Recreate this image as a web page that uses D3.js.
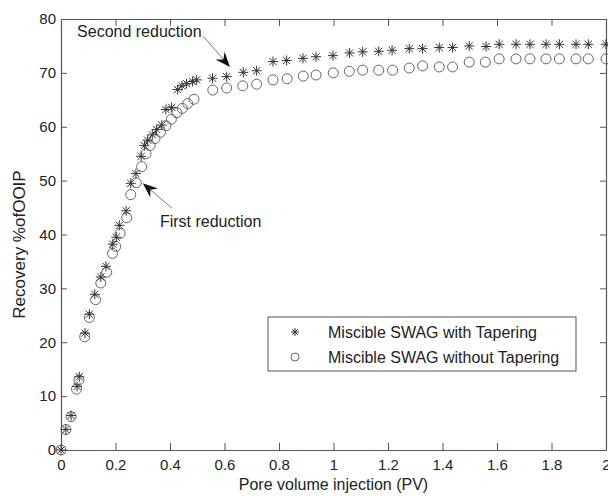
<!DOCTYPE html>
<html>
<head>
<meta charset="utf-8">
<script src="https://cdn.jsdelivr.net/npm/d3@7"></script>
<style>
  html, body { margin: 0; padding: 0; background: #fff; }
  svg { display: block; font-family: "Liberation Sans", Arial, sans-serif; }
</style>
</head>
<body>
<svg id="chart" width="608" height="496"></svg>
<script>
// ------------------------
// Data
// ------------------------
const seriesNames = [ 'Miscible SWAG with Tapering', 'Miscible SWAG without Tapering' ];

const pvWith = [
	0, 0.018, 0.037, 0.059, 0.067, 0.088, 0.104, 0.124, 0.146, 0.165,
	0.190, 0.203, 0.214, 0.239, 0.256, 0.275, 0.294, 0.306, 0.318, 0.335,
	0.351, 0.370, 0.385, 0.406, 0.428, 0.444, 0.461, 0.483, 0.498, 0.556,
	0.608, 0.669, 0.718, 0.778, 0.828, 0.888, 0.936, 0.998, 1.059, 1.107,
	1.166, 1.215, 1.278, 1.327, 1.388, 1.437, 1.498, 1.560, 1.608, 1.670,
	1.721, 1.780, 1.829, 1.890, 1.935, 2.0,
];
const recWith = [
	0, 3.8, 6.4, 11.8, 13.6, 21.7, 25.2, 28.9, 32.1, 34.1,
	38.2, 39.5, 41.7, 44.4, 49.5, 51.3, 54.5, 56.5, 57.5, 58.5,
	59.5, 60.3, 63.2, 63.6, 66.9, 67.6, 68.0, 68.4, 68.7, 69.0,
	69.3, 70.1, 70.4, 72.1, 72.3, 72.7, 73.0, 73.2, 73.7, 73.9,
	74.0, 74.2, 74.5, 74.5, 74.7, 74.7, 75.0, 74.9, 75.3, 75.3,
	75.3, 75.3, 75.3, 75.3, 75.3, 75.3,
];

const pvWithout = [
	0, 0.018, 0.037, 0.057, 0.066, 0.087, 0.104, 0.127, 0.146, 0.168,
	0.189, 0.201, 0.217, 0.241, 0.256, 0.276, 0.296, 0.312, 0.327, 0.345,
	0.365, 0.385, 0.405, 0.425, 0.445, 0.465, 0.488, 0.557, 0.608, 0.667,
	0.718, 0.778, 0.830, 0.889, 0.936, 0.999, 1.058, 1.107, 1.166, 1.217,
	1.278, 1.327, 1.388, 1.437, 1.498, 1.557, 1.608, 1.670, 1.721, 1.780,
	1.829, 1.890, 1.935, 2.0,
];
const recWithout = [
	0, 3.8, 6.2, 11.3, 13.0, 21.0, 24.6, 27.9, 31.0, 33.0,
	36.5, 37.8, 40.2, 43.1, 47.4, 49.6, 52.6, 55.0, 56.5, 57.8,
	59.0, 60.2, 61.4, 62.6, 63.4, 64.3, 65.1, 66.8, 67.2, 67.6,
	67.9, 68.7, 68.9, 69.4, 69.6, 70.0, 70.3, 70.5, 70.5, 70.5,
	70.9, 71.3, 71.1, 71.1, 72.0, 72.0, 72.6, 72.6, 72.6, 72.6,
	72.6, 72.6, 72.6, 72.6,
];

const xTicks = [ 0, 0.2, 0.4, 0.6, 0.8, 1, 1.2, 1.4, 1.6, 1.8, 2 ];
const xTickLabels = [ '0', '0.2', '0.4', '0.6', '0.8', '1', '1.2', '1.4', '1.6', '1.8', '2' ];
const yTicks = [ 0, 10, 20, 30, 40, 50, 60, 70, 80 ];

// annotations, in data units: text anchor, arrow tail, arrow tip
const noteLabels = [ 'Second reduction', 'First reduction' ];
const noteText = [ [ 0.059, 76.6 ], [ 0.363, 41.3 ] ];
const noteTail = [ [ 0.522, 76.8 ], [ 0.407, 44.9 ] ];
const noteTip = [ [ 0.620, 71.1 ], [ 0.300, 49.5 ] ];

// ------------------------
// Layout
// ------------------------
const width = 608;
const height = 496;
const margin = { top: 19, right: 2, bottom: 46, left: 61 };
const axisColor = '#555';
const textColor = '#222';

const svg = d3.select( '#chart' );

const x = d3.scaleLinear()
	.domain( [ 0, 2 ] )
	.range( [ margin.left, width - margin.right ] );

const y = d3.scaleLinear()
	.domain( [ 0, 80 ] )
	.range( [ height - margin.bottom, margin.top ] );

// box + inward ticks (matlab style)
function styleAxis( g ) {
	g.selectAll( 'path, line' ).attr( 'stroke', axisColor );
	g.selectAll( 'text' )
		.attr( 'fill', textColor )
		.style( 'font-size', '15px' );
}

svg.append( 'g' )
	.attr( 'transform', `translate(0, ${ y( 0 ) })` )
	.call( d3.axisBottom( x )
		.tickValues( xTicks )
		.tickFormat( ( d, i ) => xTickLabels[ i ] )
		.tickSizeInner( -7 )
		.tickSizeOuter( 0 )
		.tickPadding( 9 ) )
	.call( styleAxis );

svg.append( 'g' )
	.attr( 'transform', `translate(0, ${ y( 80 ) })` )
	.call( d3.axisTop( x )
		.tickValues( xTicks )
		.tickFormat( '' )
		.tickSizeInner( -7 )
		.tickSizeOuter( 0 ) )
	.call( styleAxis );

svg.append( 'g' )
	.attr( 'transform', `translate(${ x( 0 ) }, 0)` )
	.call( d3.axisLeft( y )
		.tickValues( yTicks )
		.tickSizeInner( -6 )
		.tickSizeOuter( 0 )
		.tickPadding( 5 ) )
	.call( styleAxis );

svg.append( 'g' )
	.attr( 'transform', `translate(${ x( 2 ) }, 0)` )
	.call( d3.axisRight( y )
		.tickValues( yTicks )
		.tickFormat( '' )
		.tickSizeInner( -6 )
		.tickSizeOuter( 0 ) )
	.call( styleAxis );

svg.selectAll( '.domain' ).attr( 'stroke-width', 1.2 );

// axis titles
svg.append( 'text' )
	.attr( 'x', ( x( 0 ) + x( 2 ) ) / 2 )
	.attr( 'y', 490 )
	.attr( 'text-anchor', 'middle' )
	.attr( 'fill', textColor )
	.style( 'font-size', '16px' )
	.text( 'Pore volume injection (PV)' );

svg.append( 'text' )
	.attr( 'transform', `translate(25, ${ ( y( 0 ) + y( 80 ) ) / 2 + 10 }) rotate(-90)` )
	.attr( 'text-anchor', 'middle' )
	.attr( 'fill', textColor )
	.style( 'font-size', '17px' )
	.text( 'Recovery %ofOOIP' );

// markers
function starPath( r ) {
	const d = r * 0.72;
	return `M${ -r },0H${ r }M0,${ -r }V${ r }M${ -d },${ -d }L${ d },${ d }M${ -d },${ d }L${ d },${ -d }`;
}

const withData = pvWith.map( ( v, i ) => [ v, recWith[ i ] ] );
const withoutData = pvWithout.map( ( v, i ) => [ v, recWithout[ i ] ] );

svg.append( 'g' )
	.selectAll( 'circle' )
	.data( withoutData )
	.join( 'circle' )
	.attr( 'cx', d => x( d[ 0 ] ) )
	.attr( 'cy', d => y( d[ 1 ] ) )
	.attr( 'r', 5 )
	.attr( 'fill', 'none' )
	.attr( 'stroke', '#666' )
	.attr( 'stroke-width', 1 );

svg.append( 'g' )
	.selectAll( 'path' )
	.data( withData )
	.join( 'path' )
	.attr( 'transform', d => `translate(${ x( d[ 0 ] ) }, ${ y( d[ 1 ] ) })` )
	.attr( 'd', starPath( 5 ) )
	.attr( 'fill', 'none' )
	.attr( 'stroke', '#333' )
	.attr( 'stroke-width', 1 );

// annotations
noteLabels.forEach( ( label, i ) => {
	svg.append( 'text' )
		.attr( 'x', x( noteText[ i ][ 0 ] ) )
		.attr( 'y', y( noteText[ i ][ 1 ] ) )
		.attr( 'fill', textColor )
		.style( 'font-size', '16px' )
		.text( label );

	const x0 = x( noteTail[ i ][ 0 ] );
	const y0 = y( noteTail[ i ][ 1 ] );
	const x1 = x( noteTip[ i ][ 0 ] );
	const y1 = y( noteTip[ i ][ 1 ] );
	const ang = Math.atan2( y1 - y0, x1 - x0 );

	svg.append( 'line' )
		.attr( 'x1', x0 )
		.attr( 'y1', y0 )
		.attr( 'x2', x1 - Math.cos( ang ) * 8 )
		.attr( 'y2', y1 - Math.sin( ang ) * 8 )
		.attr( 'stroke', '#777' )
		.attr( 'stroke-width', 1 );

	// concave-back arrow head
	const len = 15;
	const half = 6;
	const back = 10;
	svg.append( 'path' )
		.attr( 'transform', `translate(${ x1 }, ${ y1 }) rotate(${ ang * 180 / Math.PI })` )
		.attr( 'd', `M0,0L${ -len },${ -half }L${ -back },0L${ -len },${ half }Z` )
		.attr( 'fill', '#111' );
} );

// legend
const legend = svg.append( 'g' ).attr( 'transform', 'translate(268, 317)' );

legend.append( 'rect' )
	.attr( 'width', 308 )
	.attr( 'height', 54 )
	.attr( 'fill', '#fff' )
	.attr( 'stroke', axisColor )
	.attr( 'stroke-width', 1 );

const items = legend.selectAll( 'g.item' )
	.data( seriesNames )
	.join( 'g' )
	.attr( 'class', 'item' )
	.attr( 'transform', ( d, i ) => `translate(0, ${ 15 + i * 25 })` );

items.filter( ( d, i ) => i === 0 )
	.append( 'path' )
	.attr( 'transform', 'translate(27, 0)' )
	.attr( 'd', starPath( 4 ) )
	.attr( 'fill', 'none' )
	.attr( 'stroke', '#333' );

items.filter( ( d, i ) => i === 1 )
	.append( 'circle' )
	.attr( 'cx', 27 )
	.attr( 'r', 4 )
	.attr( 'fill', 'none' )
	.attr( 'stroke', '#666' );

items.append( 'text' )
	.attr( 'x', 60 )
	.attr( 'dy', '0.35em' )
	.attr( 'fill', textColor )
	.style( 'font-size', '16px' )
	.text( d => d );
</script>
</body>
</html>
